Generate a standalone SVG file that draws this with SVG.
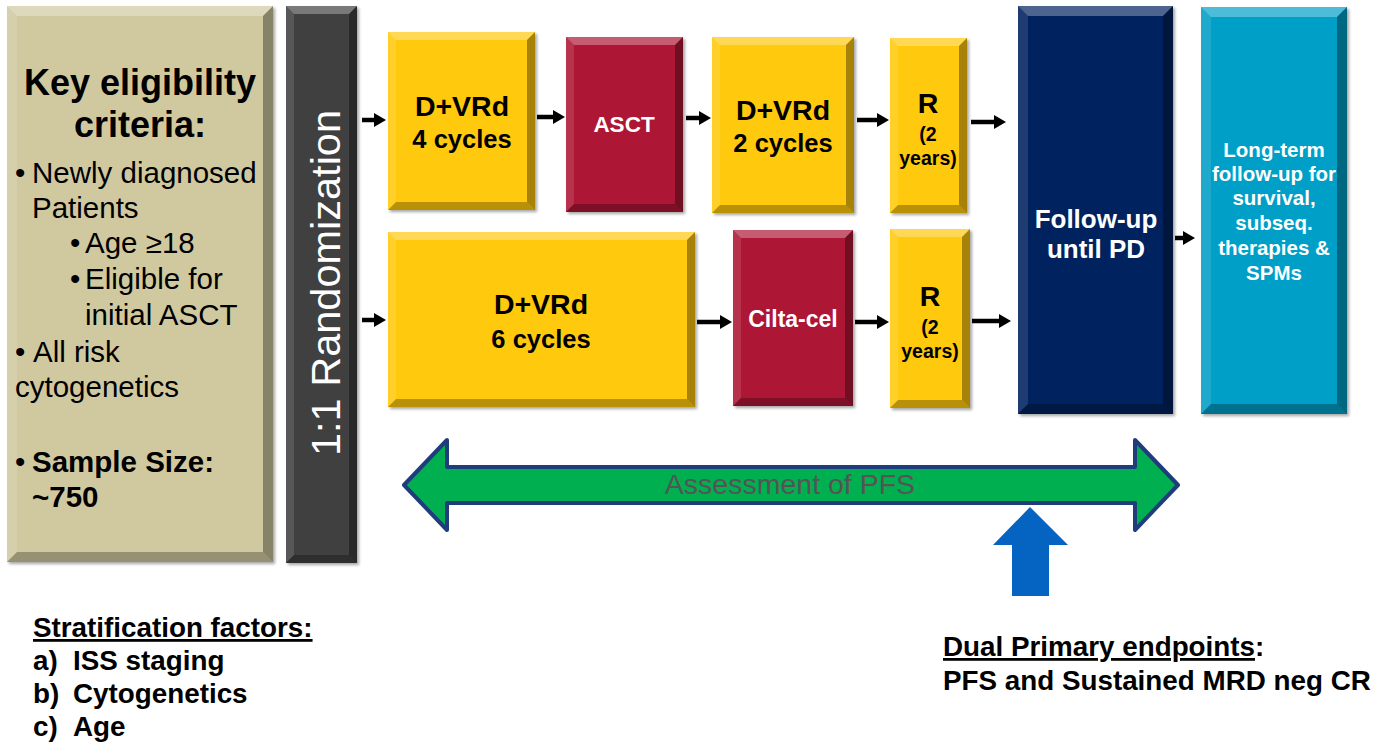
<svg xmlns="http://www.w3.org/2000/svg" width="1377" height="742" viewBox="0 0 1377 742">
<style>
text{font-family:"Liberation Sans",Arial,sans-serif}
.b{font-weight:bold}
.hl{fill:#fff;fill-opacity:.3}
.hs{fill:#fff;fill-opacity:.12}
.dk{fill:#000;fill-opacity:.35}
.db{fill:#000;fill-opacity:.28}
.conn line{stroke:#000;stroke-width:4.5;marker-end:url(#ah)}
.box{filter:url(#sh)}
</style>
<defs>
<marker id="ah" markerUnits="userSpaceOnUse" markerWidth="12" markerHeight="14" viewBox="0 0 12 14" refX="2" refY="7" orient="auto"><path d="M0,0 L12,7 L0,14 z" fill="#000"/></marker>
<filter id="sh" x="-5%" y="-5%" width="115%" height="115%"><feDropShadow dx="2" dy="2" stdDeviation="1.5" flood-opacity="0.35"/></filter>
</defs>
<rect width="1377" height="742" fill="#fff"/>

<g id="eligibility">
<rect class="box" x="7" y="6" width="266" height="556" fill="#d0c9a0"/>
<polygon class="hl" points="7,6 273,6 263,16 17,16"/>
<polygon class="hs" points="7,6 17,16 17,552 7,562"/>
<polygon class="dk" points="273,6 273,562 263,552 263,16"/>
<polygon class="db" points="7,562 273,562 263,552 17,552"/>
<text class="b" x="140" y="95" font-size="36" text-anchor="middle">Key eligibility</text>
<text class="b" x="140" y="137" font-size="36" text-anchor="middle">criteria:</text>
<g font-size="29.5" fill="#000">
<text x="15" y="183">•</text><text x="32" y="183">Newly diagnosed</text>
<text x="32" y="218">Patients</text>
<text x="70" y="253">•</text><text x="85" y="253">Age ≥18</text>
<text x="70" y="289">•</text><text x="85" y="289">Eligible for</text>
<text x="85" y="325">initial ASCT</text>
<text x="15" y="362">•</text><text x="33" y="362">All risk</text>
<text x="15" y="397">cytogenetics</text>
<text x="15" y="472">•</text><text class="b" x="32" y="472">Sample Size:</text>
<text class="b" x="32" y="507">~750</text>
</g>
</g>

<g id="randomization">
<rect class="box" x="286" y="6" width="71" height="557" fill="#404040"/>
<polygon class="hl" points="286,6 357,6 349,14 294,14"/>
<polygon class="hs" points="286,6 294,14 294,555 286,563"/>
<polygon class="dk" points="357,6 357,563 349,555 349,14"/>
<polygon class="db" points="286,563 357,563 349,555 294,555"/>
<text transform="translate(340,283) rotate(-90)" font-size="41.5" fill="#fff" text-anchor="middle">1:1 Randomization</text>
</g>

<g id="dvrd4">
<rect class="box" x="388" y="32" width="147" height="178" fill="#ffc907"/>
<polygon class="hl" points="388,32 535,32 527,40 396,40"/>
<polygon class="hs" points="388,32 396,40 396,202 388,210"/>
<polygon class="dk" points="535,32 535,210 527,202 527,40"/>
<polygon class="db" points="388,210 535,210 527,202 396,202"/>
<text class="b" x="462" y="116" font-size="28.5" text-anchor="middle">D+VRd</text>
<text class="b" x="462" y="148" font-size="25.5" text-anchor="middle">4 cycles</text>
</g>

<g id="asct">
<rect class="box" x="566" y="37" width="117" height="175" fill="#ad1435"/>
<polygon class="hl" points="566,37 683,37 675,45 574,45"/>
<polygon class="hs" points="566,37 574,45 574,204 566,212"/>
<polygon class="dk" points="683,37 683,212 675,204 675,45"/>
<polygon class="db" points="566,212 683,212 675,204 574,204"/>
<text class="b" x="624" y="132" font-size="22.5" fill="#fff" text-anchor="middle">ASCT</text>
</g>

<g id="dvrd2">
<rect class="box" x="712" y="37" width="142" height="176" fill="#ffc907"/>
<polygon class="hl" points="712,37 854,37 846,45 720,45"/>
<polygon class="hs" points="712,37 720,45 720,205 712,213"/>
<polygon class="dk" points="854,37 854,213 846,205 846,45"/>
<polygon class="db" points="712,213 854,213 846,205 720,205"/>
<text class="b" x="783" y="120" font-size="28.5" text-anchor="middle">D+VRd</text>
<text class="b" x="783" y="152" font-size="25.5" text-anchor="middle">2 cycles</text>
</g>

<g id="r1">
<rect class="box" x="890" y="38" width="77" height="175" fill="#ffc907"/>
<polygon class="hl" points="890,38 967,38 959,46 898,46"/>
<polygon class="hs" points="890,38 898,46 898,205 890,213"/>
<polygon class="dk" points="967,38 967,213 959,205 959,46"/>
<polygon class="db" points="890,213 967,213 959,205 898,205"/>
<text class="b" x="928" y="113" font-size="28.5" text-anchor="middle">R</text>
<text class="b" x="928" y="141" font-size="19.5" text-anchor="middle">(2</text>
<text class="b" x="928" y="165" font-size="19.5" text-anchor="middle">years)</text>
</g>

<g id="dvrd6">
<rect class="box" x="388" y="232" width="307" height="175" fill="#ffc907"/>
<polygon class="hl" points="388,232 695,232 687,240 396,240"/>
<polygon class="hs" points="388,232 396,240 396,399 388,407"/>
<polygon class="dk" points="695,232 695,407 687,399 687,240"/>
<polygon class="db" points="388,407 695,407 687,399 396,399"/>
<text class="b" x="541" y="314" font-size="28.5" text-anchor="middle">D+VRd</text>
<text class="b" x="541" y="348" font-size="25.5" text-anchor="middle">6 cycles</text>
</g>

<g id="ciltacel">
<rect class="box" x="733" y="230" width="120" height="176" fill="#ad1435"/>
<polygon class="hl" points="733,230 853,230 845,238 741,238"/>
<polygon class="hs" points="733,230 741,238 741,398 733,406"/>
<polygon class="dk" points="853,230 853,406 845,398 845,238"/>
<polygon class="db" points="733,406 853,406 845,398 741,398"/>
<text class="b" x="793" y="327" font-size="23" fill="#fff" text-anchor="middle">Cilta-cel</text>
</g>

<g id="r2">
<rect class="box" x="890" y="229" width="80" height="179" fill="#ffc907"/>
<polygon class="hl" points="890,229 970,229 962,237 898,237"/>
<polygon class="hs" points="890,229 898,237 898,400 890,408"/>
<polygon class="dk" points="970,229 970,408 962,400 962,237"/>
<polygon class="db" points="890,408 970,408 962,400 898,400"/>
<text class="b" x="930" y="306" font-size="28.5" text-anchor="middle">R</text>
<text class="b" x="930" y="334" font-size="19.5" text-anchor="middle">(2</text>
<text class="b" x="930" y="358" font-size="19.5" text-anchor="middle">years)</text>
</g>

<g id="followup">
<rect class="box" x="1018" y="6" width="155" height="408" fill="#03215f"/>
<polygon class="hl" points="1018,6 1173,6 1163,16 1028,16"/>
<polygon class="hs" points="1018,6 1028,16 1028,404 1018,414"/>
<polygon class="dk" points="1173,6 1173,414 1163,404 1163,16"/>
<polygon class="db" points="1018,414 1173,414 1163,404 1028,404"/>
<text class="b" x="1096" y="228" font-size="26" fill="#fff" text-anchor="middle">Follow-up</text>
<text class="b" x="1096" y="258" font-size="26" fill="#fff" text-anchor="middle">until PD</text>
</g>

<g id="longterm">
<rect class="box" x="1201" y="7" width="146" height="407" fill="#039fc7"/>
<polygon class="hl" points="1201,7 1347,7 1337,17 1211,17"/>
<polygon class="hs" points="1201,7 1211,17 1211,404 1201,414"/>
<polygon class="dk" points="1347,7 1347,414 1337,404 1337,17"/>
<polygon class="db" points="1201,414 1347,414 1337,404 1211,404"/>
<g class="b" font-size="20.5" fill="#fff" text-anchor="middle">
<text x="1274" y="157">Long-term</text>
<text x="1274" y="181">follow-up for</text>
<text x="1274" y="205">survival,</text>
<text x="1274" y="230">subseq.</text>
<text x="1274" y="255">therapies &amp;</text>
<text x="1274" y="280">SPMs</text>
</g>
</g>

<g id="connectors" class="conn">
<line x1="362" y1="120" x2="376" y2="120"/>
<line x1="362" y1="320" x2="376" y2="320"/>
<line x1="537" y1="117" x2="555" y2="117"/>
<line x1="686" y1="118" x2="701" y2="118"/>
<line x1="857" y1="120" x2="879" y2="120"/>
<line x1="971" y1="122" x2="996" y2="122"/>
<line x1="697" y1="322" x2="722" y2="322"/>
<line x1="855" y1="322" x2="879" y2="322"/>
<line x1="972" y1="321" x2="1001" y2="321"/>
<line x1="1175" y1="238" x2="1185" y2="238"/>
</g>

<g id="pfs">
<polygon points="404,485 447,440 447,467 1135,467 1135,440 1178,485 1135,530 1135,503 447,503 447,530" fill="#00b050" stroke="#1f3c7c" stroke-width="4" stroke-linejoin="round"/>
<text x="790" y="494" font-size="28.5" fill="#555555" text-anchor="middle">Assessment of PFS</text>
</g>

<g id="endpoint-arrow">
<polygon points="1030,507 1068,545 1049,545 1049,596 1012,596 1012,545 993,545" fill="#0563c1"/>
</g>

<g id="stratification" class="b" font-size="27.8">
<text x="33" y="637"><tspan text-decoration="underline">Stratification factors:</tspan></text>
<text x="33" y="670">a)</text><text x="73" y="670">ISS staging</text>
<text x="33" y="703">b)</text><text x="73" y="703">Cytogenetics</text>
<text x="33" y="736">c)</text><text x="73" y="736">Age</text>
</g>

<g id="endpoints" class="b" font-size="27.8">
<text x="943" y="656"><tspan text-decoration="underline">Dual Primary endpoints</tspan>:</text>
<text x="943" y="690">PFS and Sustained MRD neg CR</text>
</g>
</svg>
